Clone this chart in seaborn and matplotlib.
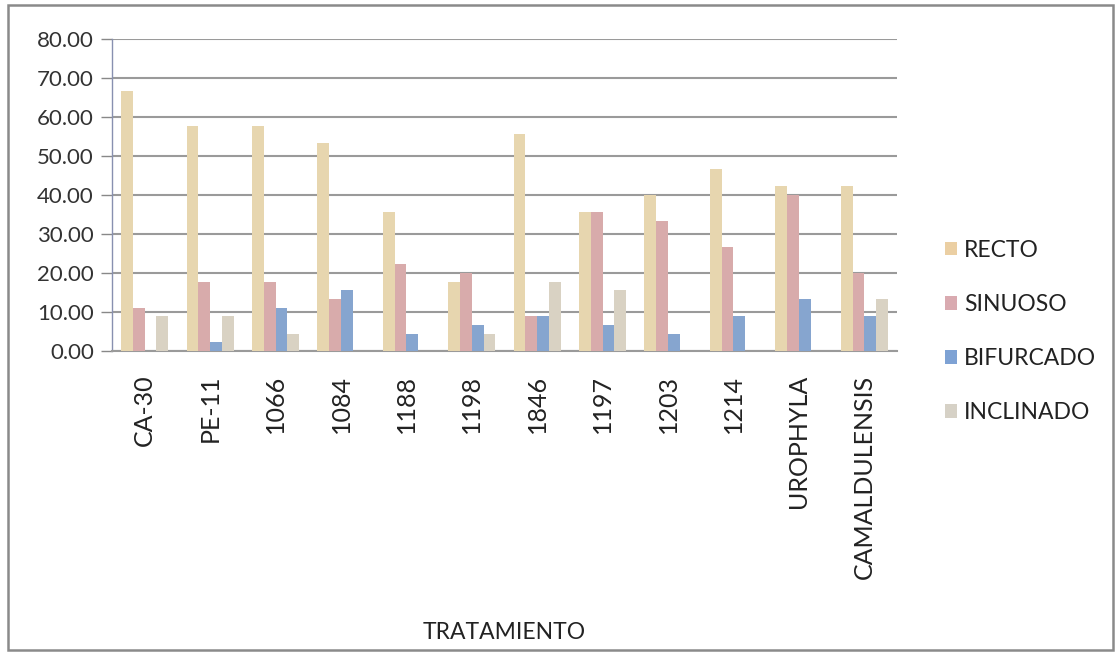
import matplotlib
matplotlib.use("Agg")
import matplotlib.pyplot as plt
from matplotlib.patches import Rectangle, Patch
import seaborn as sns
import pandas as pd

# Treatments and the share of stems (%) in each shape class
tratamientos = ["CA-30", "PE-11", "1066", "1084", "1188", "1198", "1846",
                "1197", "1203", "1214", "UROPHYLA", "CAMALDULENSIS"]
recto = [66.67, 57.78, 57.78, 53.33, 35.56, 17.78, 55.56, 35.56, 40.00, 46.67, 42.22, 42.22]
sinuoso = [11.11, 17.78, 17.78, 13.33, 22.22, 20.00, 8.89, 35.56, 33.33, 26.67, 40.00, 20.00]
bifurcado = [0.00, 2.22, 11.11, 15.56, 4.44, 6.67, 8.89, 6.67, 4.44, 8.89, 13.33, 8.89]
inclinado = [8.89, 8.89, 4.44, 0.00, 0.00, 4.44, 17.78, 15.56, 0.00, 0.00, 0.00, 13.33]
series = ["RECTO", "SINUOSO", "BIFURCADO", "INCLINADO"]
yticks = [0, 10, 20, 30, 40, 50, 60, 70, 80]

colors = ["#f0d9a6", "#e0a3a3", "#7aa3db", "#dcd3c0"]
legend_colors = ["#ebcfa3", "#d9aab0", "#7ea2d4", "#d6d1c6"]

rows = []
for name, vals in zip(series, [recto, sinuoso, bifurcado, inclinado]):
    for t, v in zip(tratamientos, vals):
        rows.append({"TRATAMIENTO": t, "serie": name, "valor": v})
df = pd.DataFrame(rows)

sns.set_theme(style="white")
plt.rcParams["font.family"] = ["Lato", "DejaVu Sans"]

W, H = 1119, 654
fig = plt.figure(figsize=(W / 100, H / 100), dpi=100)
ax = fig.add_axes([112 / W, 1 - 351 / H, (897 - 112) / W, (351 - 39) / H])

sns.barplot(data=df, x="TRATAMIENTO", y="valor", hue="serie",
            order=tratamientos, hue_order=series, palette=colors,
            width=0.72, dodge=True, linewidth=0, errorbar=None,
            legend=False, ax=ax, zorder=3)

ax.set_ylim(0, 80)
ax.set_yticks(yticks)
ax.set_yticklabels([f"{v:.2f}" for v in yticks], fontsize=16, color="#333333")
ax.yaxis.grid(True, color="#9a9a9a", linewidth=1.5, zorder=0)
ax.set_axisbelow(True)
ax.set_xlim(-0.5, len(tratamientos) - 0.5)
ax.set_xticks(range(len(tratamientos)))
ax.set_xticklabels(tratamientos, rotation=90, fontsize=18, color="#222222",
                   va="top")
ax.tick_params(axis="x", length=0, pad=17)
ax.tick_params(axis="y", length=8, width=1, color="#888888", direction="out",
               left=True, pad=5)
ax.set_ylabel("")
ax.set_xlabel("TRATAMIENTO", fontsize=16.5, color="#222222", labelpad=0)
ax.xaxis.set_label_coords((504 - 112) / (897 - 112), (351 - 622) / (351 - 39))

for side in ["top", "right"]:
    ax.spines[side].set_visible(False)
ax.spines["left"].set_color("#8890b0")
ax.spines["left"].set_linewidth(1.0)
ax.spines["bottom"].set_color("#9a9a9a")
ax.spines["bottom"].set_linewidth(1.5)

handles = [Patch(facecolor=c, edgecolor="none") for c in legend_colors]
fig.legend(handles, series, loc="upper left",
           bbox_to_anchor=(924 / W, 1 - 219 / H), frameon=False,
           fontsize=16.5, labelspacing=1.45, handlelength=0.55,
           handleheight=0.55, handletextpad=0.3, labelcolor="#222222")

# Chart frame
fig.patches.append(Rectangle((8 / W, 4 / H), (1113 - 8) / W, (650 - 5) / H,
                             transform=fig.transFigure, fill=False,
                             edgecolor="#8a8a8a", linewidth=1.8))

fig.savefig("out.png", dpi=100, facecolor="white")
